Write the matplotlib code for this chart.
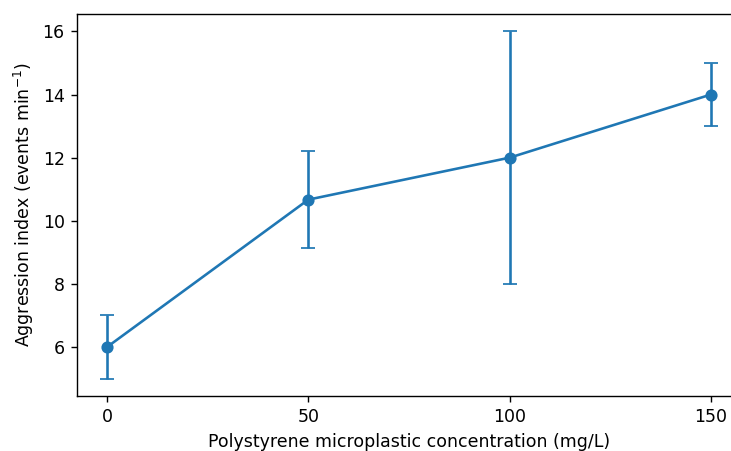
import matplotlib
matplotlib.use("Agg")
import matplotlib.pyplot as plt

""" data """

concentration = [0, 50, 100, 150]
aggression = [6.0, 10.67, 12.0, 14.0]
aggression_err = [1.0, 1.53, 4.0, 1.0]

""" plot """

dpi = 125
fig = plt.figure(figsize=(731 / dpi, 451 / dpi), dpi=dpi)
ax = fig.add_axes([76.8 / 731, 55 / 451, 664.4 / 731, 382 / 451])

ax.errorbar(concentration, aggression, yerr=aggression_err,
            fmt="-o", color="#1f77b4", capsize=4)

ax.set_xticks(concentration)
ax.set_xlabel("Polystyrene microplastic concentration (mg/L)")
ax.set_ylabel("Aggression index (events min$^{-1}$)")

fig.savefig("out.png", dpi=dpi)
